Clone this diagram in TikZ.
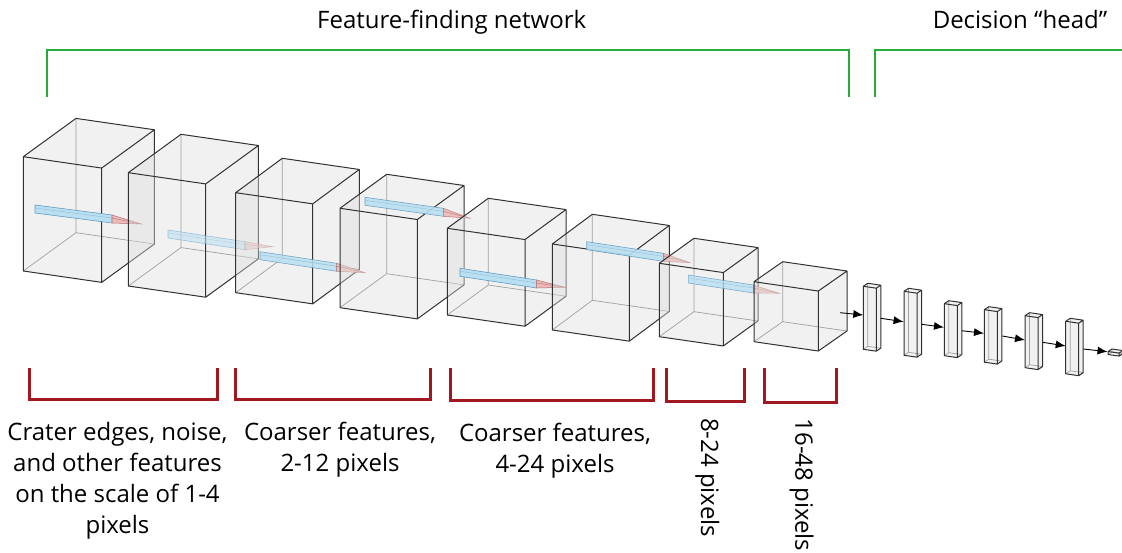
\documentclass[tikz,border=0pt]{standalone}
\usepackage{fontspec}
\setmainfont{Open Sans}
\usetikzlibrary{arrows.meta}
\definecolor{grn}{RGB}{40,172,56}
\definecolor{dred}{RGB}{162,24,32}
\definecolor{edgec}{RGB}{50,50,50}
\definecolor{hidc}{RGB}{160,160,160}
\definecolor{facec}{RGB}{222,222,222}
\definecolor{pblue}{RGB}{185,224,242}
\definecolor{pblueD}{RGB}{100,155,190}
\definecolor{ppink}{RGB}{236,185,185}
\definecolor{ppinkD}{RGB}{185,110,110}
\tikzset{
  visedge/.style={edgec,line width=1pt,line join=round},
  hidedge/.style={hidc,line width=0.7pt},
  facefill/.style={fill=facec,fill opacity=0.42},
  lbl/.style={font=\fontsize{24}{30}\selectfont,inner sep=0pt,anchor=base},
  grnbr/.style={grn,line width=2.7pt,line join=miter},
  redbr/.style={dred,line width=3pt,line join=miter},
  flow/.style={black,line width=0.9pt,-{Latex[length=10pt,width=8pt]}}
}
% x y w h dx dy name
\newcommand\mycuboid[7]{%
  \pgfmathsetmacro\cbs{0.145*#3}%
  \coordinate (#7-A) at (#1,#2);
  \coordinate (#7-B) at ({#1+#3},{#2+\cbs});
  \coordinate (#7-C) at ({#1+#3},{#2+\cbs+#4});
  \coordinate (#7-D) at (#1,{#2+#4});
  \coordinate (#7-A2) at ({#1+#5},{#2+#6});
  \coordinate (#7-B2) at ({#1+#3+#5},{#2+\cbs+#6});
  \coordinate (#7-C2) at ({#1+#3+#5},{#2+\cbs+#4+#6});
  \coordinate (#7-D2) at ({#1+#5},{#2+#4+#6});
  \fill[facefill] (#7-A)--(#7-B)--(#7-C)--(#7-D)--cycle;
  \fill[facefill] (#7-A)--(#7-A2)--(#7-B2)--(#7-B)--cycle;
  \fill[facefill] (#7-B)--(#7-B2)--(#7-C2)--(#7-C)--cycle;
  \draw[hidedge] (#7-A2)--(#7-D2)--(#7-C2) (#7-D)--(#7-D2);
  \draw[visedge] (#7-A)--(#7-B)--(#7-C)--(#7-D)--cycle
     (#7-A)--(#7-A2)--(#7-B2)--(#7-B) (#7-B2)--(#7-C2)--(#7-C);
}
% x0 y0 x1 y1 x2 y2 opacity
\newcommand\pencilshape[7]{%
  \begin{scope}[opacity=#7]
  \filldraw[fill=pblue,draw=pblueD,line width=0.6pt] (#1,#2)--(#3,#4)--(#3,{#4+8})--(#1,{#2+8})--cycle;
  \draw[pblueD!70,line width=0.4pt] (#1,{#2+3})--(#3,{#4+3});
  \filldraw[fill=ppink,draw=ppinkD,line width=0.5pt] (#3,#4)--(#5,#6)--(#3,{#4+8})--cycle;
  \draw[ppinkD,line width=0.4pt] (#3,{#4+3})--(#5,#6);
  \end{scope}}
\begin{document}
\begin{tikzpicture}[x=1pt,y=-1pt]
\useasboundingbox (0,0) rectangle (1122,553);
% titles and green brackets
\node[lbl] (t1) at (451.7,28.3) {Feature-finding network};
\node[lbl] (t2) at (1020,28.3) {Decision “head”};
\draw[grnbr] (47,97)--(47,50)--(849,50)--(849,97);
\draw[grnbr] (875,97)--(875,50)--(1123,50);
% feature boxes and pencils
\mycuboid{23.3}{156.7}{78.4}{114.3}{52.7}{-38.3}{b1}
\pencilshape{35}{205}{112}{215}{141}{224}{1}
\mycuboid{128.3}{172.7}{77.4}{113.3}{52.7}{-38.4}{b2}
\pencilshape{168}{230}{245}{241.7}{272.7}{246.7}{0.55}
\mycuboid{235.7}{192.7}{77}{100}{46.6}{-34.4}{b3}
\pencilshape{260}{251.7}{336.7}{263.3}{365}{272.7}{0.85}
\mycuboid{340}{208.3}{77.3}{99.4}{46.7}{-34}{b4}
\pencilshape{365}{197.3}{443.3}{208.3}{470}{218.3}{0.9}
\mycuboid{447.3}{228.3}{77.7}{86.7}{41}{-30}{b5}
\pencilshape{460}{268.3}{536.7}{280}{565}{287.3}{1}
\mycuboid{552.3}{244}{77}{86}{40}{-29.7}{b6}
\pencilshape{586.7}{241.7}{663.3}{253.3}{690}{262.7}{0.9}
\mycuboid{659.3}{263.3}{64}{73.4}{34.7}{-25}{b7}
\pencilshape{688.3}{275}{753.3}{285}{779.3}{293.3}{0.8}
\mycuboid{754}{281.7}{64.3}{60}{28.7}{-20}{b8}
% decision head
\mycuboid{863.3}{286.3}{13}{63}{4.5}{-3}{h1}
\mycuboid{904}{291.3}{13}{64}{4.5}{-3}{h2}
\mycuboid{944.3}{303.7}{13}{52}{4.5}{-3}{h3}
\mycuboid{984.3}{309.7}{13}{52.5}{4.5}{-3}{h4}
\mycuboid{1025}{315.7}{13}{52}{4.5}{-3}{h5}
\mycuboid{1065.7}{321.3}{13}{52.5}{4.5}{-3}{h6}
\mycuboid{1108}{351.5}{11}{3}{4}{-2.5}{h7}
\coordinate (a0s) at (840,312.7);   \coordinate (a0e) at (863.3,315);
\coordinate (a1s) at (880.7,318.3); \coordinate (a1e) at (903.6,321.7);
\coordinate (a2s) at (921.7,324.3); \coordinate (a2e) at (944,327.3);
\coordinate (a3s) at (961.7,330.7); \coordinate (a3e) at (984,333.3);
\coordinate (a4s) at (1002.3,336);  \coordinate (a4e) at (1025,340);
\coordinate (a5s) at (1042.7,342.3);\coordinate (a5e) at (1065.7,346);
\coordinate (a6s) at (1083.3,349);  \coordinate (a6e) at (1107.5,351.7);
\foreach \i in {0,...,6}{\draw[flow] (a\i s)--(a\i e);}
% red brackets
\draw[redbr] (29.3,368)--(29.3,399)--(217.3,399)--(217.3,368);
\draw[redbr] (235.7,368)--(235.7,399)--(430.7,399)--(430.7,368);
\draw[redbr] (450,368)--(450,400)--(653.3,400)--(653.3,368);
\draw[redbr] (666,368)--(666,401.7)--(744,401.7)--(744,368);
\draw[redbr] (764,368)--(764,402)--(836.7,402)--(836.7,368);
% labels
\node[lbl] (c1a) at (117.5,440) {Crater edges, noise,};
\node[lbl] (c1b) at (117.5,471) {and other features};
\node[lbl] (c1c) at (117.5,502) {on the scale of 1-4};
\node[lbl] (c1d) at (117.5,533) {pixels};
\node[lbl] (c2a) at (340,440) {Coarser features,};
\node[lbl] (c2b) at (340,471) {2-12 pixels};
\node[lbl] (c3a) at (555,441.7) {Coarser features,};
\node[lbl] (c3b) at (555,472.7) {4-24 pixels};
\node[lbl,rotate=-90,anchor=center] (c4) at (707.3,477.5) {8-24 pixels};
\node[lbl,rotate=-90,anchor=center] (c5) at (801.5,485) {16-48 pixels};
\end{tikzpicture}
\end{document}
